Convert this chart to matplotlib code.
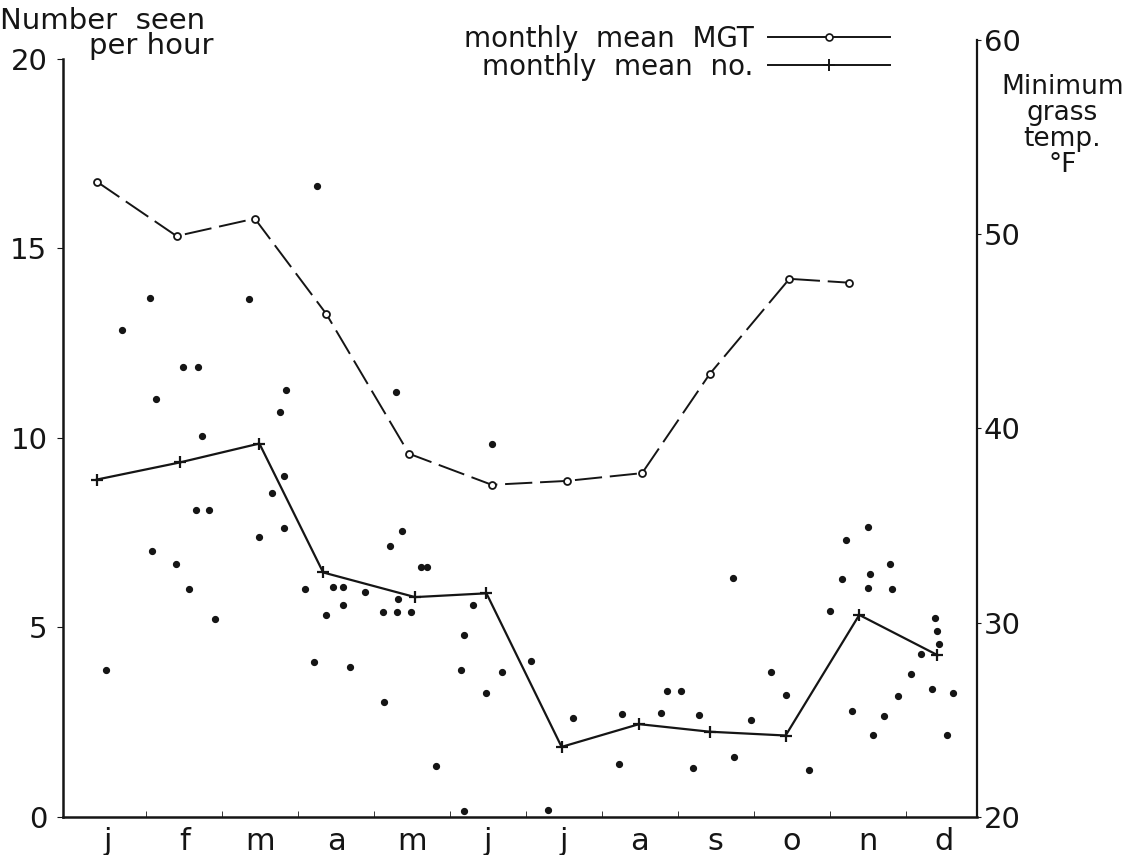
import matplotlib
matplotlib.use("Agg")
import matplotlib.pyplot as plt
from matplotlib.lines import Line2D

# month labels along the bottom
months = ["j", "f", "m", "a", "m", "j", "j", "a", "s", "o", "n", "d"]

# monthly mean number seen per hour (left axis), x in month units
mean_no_x = [-0.15, 0.94, 1.99, 2.83, 4.04, 4.98, 5.97, 6.99, 7.92, 8.92, 9.89, 10.92]
mean_no = [8.9, 9.35, 9.85, 6.45, 5.8, 5.9, 1.85, 2.45, 2.25, 2.15, 5.33, 4.27]

# monthly mean minimum grass temperature, deg F (right axis)
mgt_x = [-0.15, 0.9, 1.93, 2.87, 3.96, 5.05, 6.04, 7.03, 7.92, 8.97, 9.76]
mgt = [52.7, 49.9, 50.8, 45.9, 38.7, 37.1, 37.3, 37.7, 42.8, 47.7, 47.5]

# individual counts (number seen per hour)
obs_x = [-0.03, 0.18, 0.55, 0.58, 0.63,
         0.89, 0.99, 1.06, 1.15, 1.18, 1.23, 1.33, 1.41,
         1.85, 1.99, 2.15, 2.26, 2.31, 2.32, 2.34,
         2.59, 2.71, 2.75, 2.87, 2.96, 3.09, 3.09, 3.18, 3.38,
         3.62, 3.63, 3.71, 3.79, 3.80, 3.82, 3.87, 3.99, 4.12, 4.20, 4.32,
         4.65, 4.68, 4.68, 4.80, 4.98, 5.05, 5.19,
         5.57, 5.79, 6.12,
         6.72, 6.76, 7.28, 7.36, 7.54,
         7.70, 7.78, 8.23, 8.24,
         8.47, 8.73, 8.92, 9.23, 9.51,
         9.66, 9.72, 9.79, 10.0, 10.01, 10.03, 10.07, 10.21, 10.29, 10.32, 10.40, 10.57,
         10.70, 10.85, 10.89, 10.91, 10.94, 11.04, 11.12]
obs_y = [3.88, 12.85, 13.7, 7.02, 11.03,
         6.68, 11.87, 6.02, 8.1, 11.87, 10.05, 8.1, 5.22,
         13.67, 7.39, 8.55, 10.69, 9.0, 7.63, 11.27,
         6.02, 4.09, 16.65, 5.33, 6.07, 6.07, 5.59, 3.96, 5.94,
         5.4, 3.03, 7.15, 11.21, 5.4, 5.75, 7.55, 5.4, 6.6, 6.6, 1.35,
         3.88, 4.8, 0.16, 5.59, 3.27, 9.84, 3.83,
         4.12, 0.18, 2.61,
         1.40, 2.72, 2.74, 3.32, 3.32,
         1.29, 2.69, 6.31, 1.58,
         2.56, 3.83, 3.22, 1.24, 5.44,
         6.28, 7.31, 2.80, 6.04, 7.65, 6.41, 2.16, 2.66, 6.68, 6.02, 3.19, 3.77,
         4.30, 3.38, 5.25, 4.91, 4.56, 2.16, 3.27]

left_ticks = [0, 5, 10, 15, 20]
right_ticks = [20, 30, 40, 50, 60]

ink = "#151515"
fs = 20
plt.rcParams["font.family"] = ["DejaVu Sans"]
plt.rcParams["text.color"] = ink

fig = plt.figure(figsize=(11.4, 8.55), dpi=100)
ax = fig.add_axes([0.055, 0.0444, 0.802, 0.887])
ax2 = fig.add_axes([0.055, 0.0444, 0.802, 0.909])
ax2.patch.set_visible(False)

xlim = (-0.6, 11.44)

# counts and monthly mean number
ax.plot(obs_x, obs_y, "o", color=ink, ms=4.2, ls="none")
ax.plot(mean_no_x, mean_no, color=ink, lw=1.6, marker="+", ms=9, mew=1.6)
ax.set_xlim(*xlim)
ax.set_ylim(0, 20)
ax.set_yticks(left_ticks)
ax.set_xticks(range(len(months)))
ax.set_xticklabels(months)
ax.set_xticks([i + 0.5 for i in range(11)], minor=True)
ax.tick_params(axis="x", which="major", length=0, labelsize=22, pad=7, colors=ink)
ax.tick_params(axis="x", which="minor", length=4, direction="in", color=ink)
ax.tick_params(axis="y", length=4, direction="out", labelsize=21, colors=ink, pad=7)
for s in ["top", "right"]:
    ax.spines[s].set_visible(False)
for s in ["left", "bottom"]:
    ax.spines[s].set_linewidth(1.8)
    ax.spines[s].set_color(ink)

# monthly mean minimum grass temperature
ax2.plot(mgt_x, mgt, color=ink, lw=1.4, ls=(0, (14, 4)), marker="o", ms=5,
         mfc="white", mew=1.3)
ax2.set_xlim(*xlim)
ax2.set_ylim(20, 60)
ax2.set_yticks(right_ticks)
ax2.yaxis.tick_right()
ax2.set_xticks([])
ax2.tick_params(axis="y", length=3, direction="out", labelsize=21, colors=ink, pad=2)
for s in ["top", "left", "bottom"]:
    ax2.spines[s].set_visible(False)
ax2.spines["right"].set_linewidth(1.6)
ax2.spines["right"].set_color(ink)

# axis titles
fig.text(0.0, 0.976, "Number  seen", fontsize=21, va="center", ha="left")
fig.text(0.078, 0.946, "per hour", fontsize=21, va="center", ha="left")
fig.text(0.932, 0.853, "Minimum\ngrass\ntemp.\n°F", fontsize=19, va="center",
         ha="center", linespacing=1.0)

# legend
handles = [Line2D([], [], color=ink, lw=1.4, marker="o", ms=5, mfc="white", mew=1.2),
           Line2D([], [], color=ink, lw=1.4, marker="+", ms=9, mew=1.4)]
leg = fig.legend(handles, ["monthly  mean  MGT", "monthly  mean  no."],
                 loc="upper left", bbox_to_anchor=(0.385, 1.0), frameon=False,
                 markerfirst=False, fontsize=fs, handlelength=4.4, handletextpad=0.5,
                 labelspacing=0.0, numpoints=1)
for t in leg.get_texts():
    t.set_color(ink)

fig.savefig("out.png", dpi=100, facecolor="white")
